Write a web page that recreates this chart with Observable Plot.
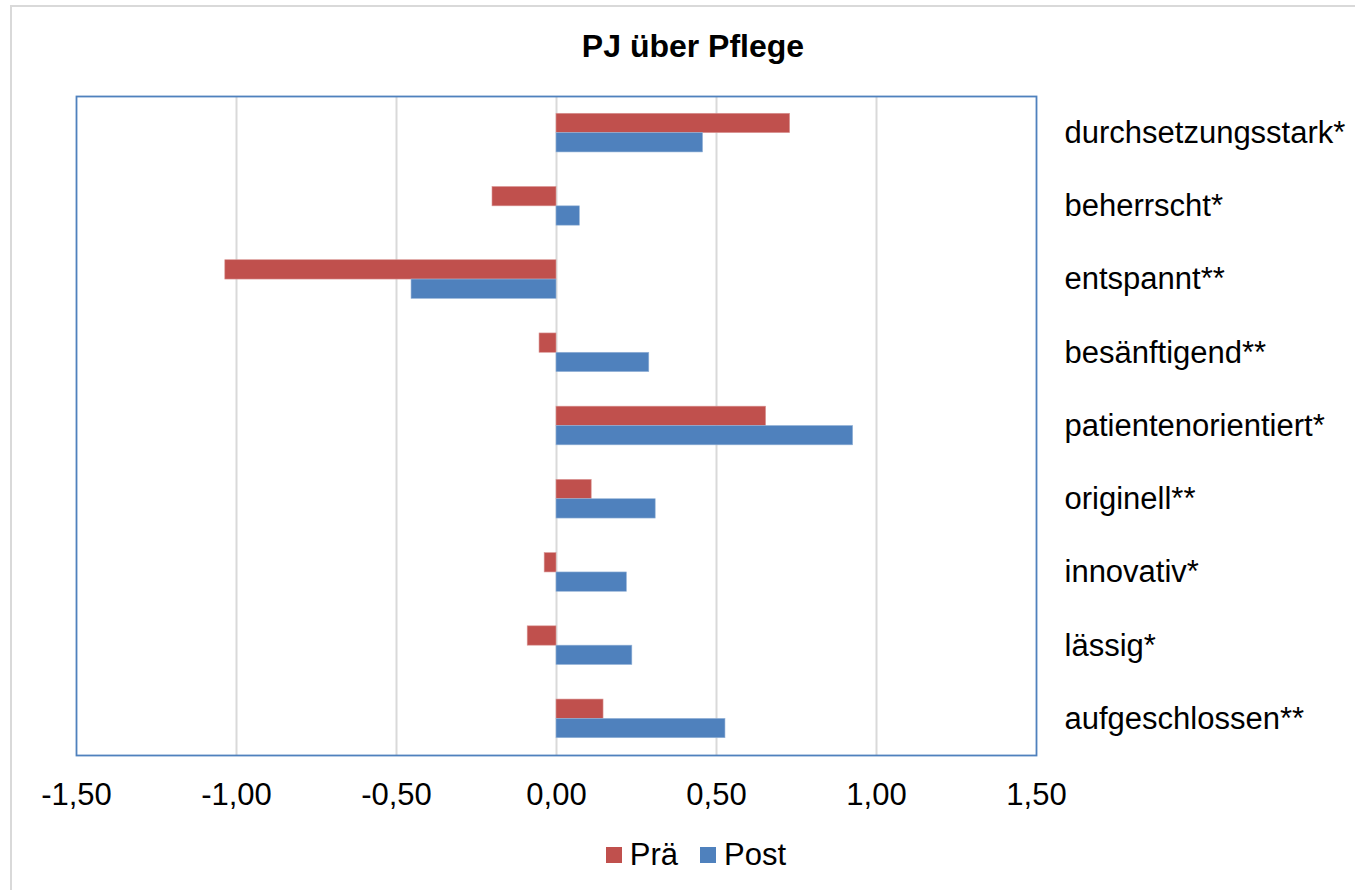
<!DOCTYPE html>
<html>
<head>
<meta charset="utf-8">
<script src="https://cdn.jsdelivr.net/npm/d3@7"></script>
<script src="https://cdn.jsdelivr.net/npm/@observablehq/plot@0.6"></script>
<style>
  html, body { margin: 0; padding: 0; background: #fff; overflow: hidden; }
  body { width: 1355px; height: 890px; position: relative; font-family: "Liberation Sans", Arial, sans-serif; }
  #border { position: absolute; left: 10px; top: 5px; width: 1400px; height: 950px; border: 2px solid #d9d9d9; box-sizing: border-box; }
  #title { position: absolute; left: 0; top: 26px; width: 1386px; text-align: center; font-size: 32px; font-weight: bold; color: #000; line-height: 40px; }
  #chart { position: absolute; left: 0; top: 70px; }
  #legend { position: absolute; left: 0; top: 835px; width: 1392px; display: flex; justify-content: center; align-items: center; height: 40px; font-size: 31px; color: #000; }
  .item { display: inline-flex; align-items: center; margin: 0 11px; }
  .sw { width: 16px; height: 16px; display: inline-block; margin-right: 8px; }
</style>
</head>
<body>
<div id="border"></div>
<div id="title">PJ über Pflege</div>
<div id="chart"></div>
<div id="legend"></div>
<script>
const categories = ["durchsetzungsstark*", "beherrscht*", "entspannt**", "besänftigend**", "patientenorientiert*", "originell**", "innovativ*", "lässig*", "aufgeschlossen**"];
const seriesNames = ["Prä", "Post"];
const praeValues = [0.73, -0.20, -1.035, -0.053, 0.655, 0.11, -0.037, -0.09, 0.147];
const postValues = [0.458, 0.073, -0.453, 0.29, 0.927, 0.31, 0.22, 0.237, 0.528];
const xTicks = [-1.5, -1.0, -0.5, 0, 0.5, 1.0, 1.5];
const gridTicks = [-1.0, -0.5, 0, 0.5, 1.0];
const colors = {"Prä": "#c0504d", "Post": "#4f81bd"};

const praeData = categories.map((c, i) => ({cat: c, value: praeValues[i]}));
const postData = categories.map((c, i) => ({cat: c, value: postValues[i]}));

const plotHeight = 659;
const bw = plotHeight / categories.length * (1 - 0.736);

const fmt = d => d.toFixed(2).replace(".", ",");

const chart = Plot.plot({
  width: 1355,
  height: 26 + plotHeight + 70,
  marginLeft: 76,
  marginRight: 319,
  marginTop: 26,
  marginBottom: 70,
  style: {fontFamily: '"Liberation Sans", Arial, sans-serif', fontSize: "31px", color: "#000", background: "transparent", overflow: "visible"},
  x: {domain: [-1.5, 1.5]},
  y: {domain: categories, paddingInner: 0.736, paddingOuter: 0.368, round: false},
  marks: [
    Plot.ruleX(gridTicks, {stroke: "#d9d9d9", strokeWidth: 2}),
    Plot.barX(praeData, {x1: 0, x2: "value", y: "cat", fill: colors["Prä"], dy: -bw / 2, stroke: "#d99694", strokeWidth: 0.6}),
    Plot.barX(postData, {x1: 0, x2: "value", y: "cat", fill: colors["Post"], dy: bw / 2, stroke: "#95b3d7", strokeWidth: 0.6}),
    Plot.frame({stroke: "#4f81bd", strokeWidth: 1.8}),
    Plot.axisX({ticks: xTicks, tickFormat: fmt, tickSize: 0, tickPadding: 27, fontSize: 31, label: null}),
    Plot.axisY({anchor: "right", tickSize: 0, tickPadding: 28, fontSize: 31, label: null})
  ]
});
document.getElementById("chart").appendChild(chart);

const legend = document.getElementById("legend");
seriesNames.forEach(s => {
  const item = document.createElement("span");
  item.className = "item";
  const sw = document.createElement("span");
  sw.className = "sw";
  sw.style.background = colors[s];
  item.appendChild(sw);
  item.appendChild(document.createTextNode(s));
  legend.appendChild(item);
});
</script>
</body>
</html>
